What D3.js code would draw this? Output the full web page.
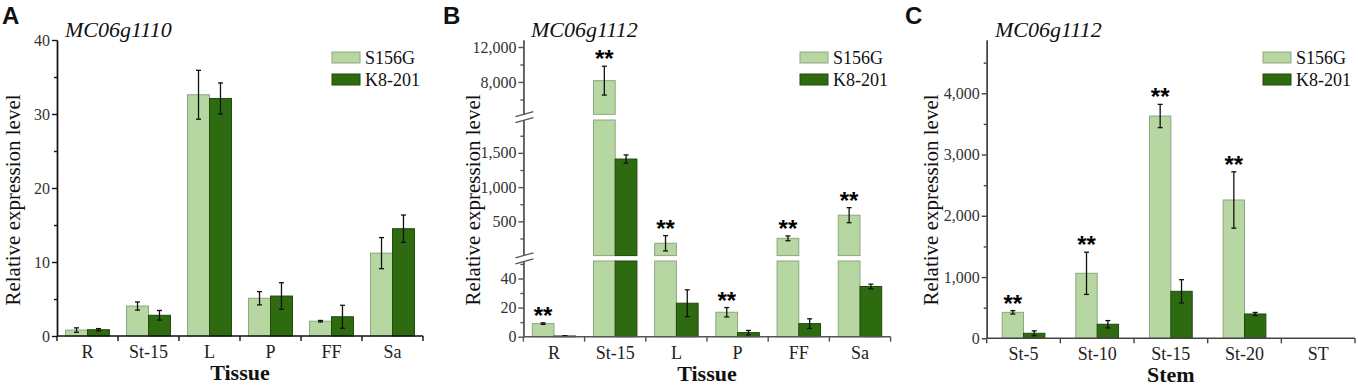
<!DOCTYPE html>
<html>
<head>
<script src="https://cdn.jsdelivr.net/npm/d3@7"></script>
<style>
body{margin:0;background:#fff;}
svg text{font-family:"Liberation Serif","Times New Roman",serif;}
</style>
</head>
<body>
<div id="chart"></div>
<script>
var series = ["S156G","K8-201"]
var tissues = ["R","St-15","L","P","FF","Sa"]
var stems = ["St-5","St-10","St-15","St-20","ST"]

// A: MC06g1110, tissues
var aS156G = [0.8, 4.05, 32.6, 5.1, 2.0, 11.2]
var aS156GErr = [0.3, 0.55, 3.3, 0.9, 0.1, 2.1]
var aK8 = [0.85, 2.8, 32.1, 5.4, 2.6, 14.5]
var aK8Err = [0.15, 0.65, 2.1, 1.8, 1.55, 1.85]
var aStars = [0,0,0,0,0,0]
var aTicks = [0,10,20,30,40]
var aMinor = [5,15,25,35]

// B: MC06g1112, tissues (broken axis)
var bS156G = [9.0, 8150, 180, 16.8, 252, 590]
var bS156GErr = [0.5, 1650, 112, 3.2, 35, 110]
var bK8 = [0.5, 1410, 23, 2.8, 9.0, 34.5]
var bK8Err = [0.2, 60, 9.2, 1.5, 3.3, 1.6]
var bStars = [1,1,1,1,1,1]
var bTicks = [0,20,40,500,1000,1500,8000,12000]
var bMinor = [10,30,50,250,750,1250,1750,6000,10000]

// C: MC06g1112, stem stages
var cS156G = [424, 1061, 3629, 2258, null]
var cS156GErr = [28, 345, 190, 460, null]
var cK8 = [82, 229, 767, 397, null]
var cK8Err = [40, 60, 190, 25, null]
var cStars = [1,1,1,1,0]
var cTicks = [0,1000,2000,3000,4000]
var cMinor = [500,1500,2500,3500,4500]

var fills = ["#b6d7a2","#2e6b10"]
var strokes = ["#8fa680","#1f4a0a"]
var serif = "'Liberation Serif','Times New Roman',serif"
var sans = "'Liberation Sans',Arial,sans-serif"

var svg = d3.select("#chart").append("svg").attr("width",1358).attr("height",387)

function panel(o){
    var g = svg.append("g")
    var x = d3.scaleBand().domain(o.cats).range([o.x0,o.x1])
    var bw = x.bandwidth(), gw = bw*o.group
    var sub = d3.scaleBand().domain(series).range([(bw-gw)/2,(bw+gw)/2])

    var segs = o.segs.map(function(s,j){
        var from = j==0 ? s.lo : o.segs[j-1].hi
        return {lo:s.lo,hi:s.hi,from:from,y0:s.y0,y1:s.y1,
            y:d3.scaleLinear().domain([s.lo,s.hi]).range([s.y0,s.y1])}
    })
    function segOf(v){
        for(var j=0;j<segs.length;j++){ if(v<=segs[j].hi) return segs[j] }
        return segs[segs.length-1]
    }

    // bars
    var vals = [o.s1,o.s2], errs = [o.e1,o.e2]
    o.cats.forEach(function(c,i){
        series.forEach(function(sr,k){
            var v = vals[k][i]
            if(v==null) return
            var bx = x(c)+sub(sr)
            segs.forEach(function(s,j){
                if(j>0 && v<=s.from) return
                var top = s.y(Math.min(v,s.hi))
                g.append("rect").attr("x",bx).attr("y",top)
                    .attr("width",sub.bandwidth()).attr("height",s.y0-top)
                    .attr("fill",fills[k]).attr("stroke",strokes[k]).attr("stroke-width",1)
            })
            var e = errs[k][i]
            var cx = bx+sub.bandwidth()/2
            var s = segOf(v)
            var yHi = s.y(Math.min(v+e,s.hi)), yLo = s.y(Math.max(v-e,s.lo))
            g.append("line").attr("x1",cx).attr("x2",cx).attr("y1",yHi).attr("y2",yLo)
                .attr("stroke","#111").attr("stroke-width",1.3)
            ;[yHi,yLo].forEach(function(yy){
                g.append("line").attr("x1",cx-2.5).attr("x2",cx+2.5).attr("y1",yy).attr("y2",yy)
                    .attr("stroke","#111").attr("stroke-width",1.3)
            })
            if(k==0 && o.stars[i]){
                g.append("text").text("**").attr("x",cx).attr("y",yHi+1)
                    .attr("text-anchor","middle").attr("font-size",24).attr("font-weight","bold")
                    .style("font-family",sans)
            }
        })
    })

    // y axis, one piece per segment (major and minor in their own groups)
    segs.forEach(function(s){
        var inSeg = function(t){ return t<=s.hi && (t>s.from || (t==s.lo && s.from==s.lo)) }
        var major = o.ticks.filter(inSeg), minor = o.minor.filter(inSeg)
        var axMinor = g.append("g").attr("transform","translate("+o.x0+",0)")
            .call(d3.axisLeft(s.y).tickValues(minor).tickSize(3).tickSizeOuter(0).tickFormat(""))
        var ax = g.append("g").attr("transform","translate("+o.x0+",0)")
            .call(d3.axisLeft(s.y).tickValues(major).tickSize(5).tickSizeOuter(0).tickPadding(2).tickFormat(d3.format(",")))
        ;[ax,axMinor].forEach(function(a){
            a.selectAll("path,line").attr("stroke",o.axisColor).attr("stroke-width",1.4)
        })
        ax.selectAll("text").attr("font-size",16).attr("fill","#333").style("font-family",serif)
    })
    // break marks
    for(var j=1;j<segs.length;j++){
        var mid = (segs[j-1].y1+segs[j].y0)/2
        ;[-3,3].forEach(function(d){
            g.append("line").attr("x1",o.x0-8).attr("x2",o.x0+10)
                .attr("y1",mid+d+2.5).attr("y2",mid+d-2.5)
                .attr("stroke","#555").attr("stroke-width",1.2)
        })
    }

    // x axis
    var base = segs[0].y0
    g.append("line").attr("x1",o.x0).attr("x2",o.x1).attr("y1",base).attr("y2",base)
        .attr("stroke",o.axisColor).attr("stroke-width",1.4)
    o.cats.map(function(c){return x(c)}).concat([o.x1]).forEach(function(t){
        g.append("line").attr("x1",t).attr("x2",t).attr("y1",base).attr("y2",base+5)
            .attr("stroke",o.axisColor).attr("stroke-width",1.4)
    })
    o.cats.forEach(function(c){
        g.append("text").text(c).attr("x",x(c)+bw/2).attr("y",base+22)
            .attr("text-anchor","middle").attr("font-size",18).attr("fill","#222").style("font-family",serif)
    })
    g.append("text").text(o.xTitle).attr("x",(o.x0+o.x1)/2).attr("y",base+44)
        .attr("text-anchor","middle").attr("font-size",22).attr("font-weight","bold").attr("fill","#111")
        .style("font-family",serif)

    g.append("text").text("Relative expression level")
        .attr("transform","translate("+o.yLabelX+",200) rotate(-90)")
        .attr("text-anchor","middle").attr("font-size",21).attr("fill","#111").style("font-family",serif)

    g.append("text").text(o.title).attr("x",o.titleX).attr("y",37)
        .attr("font-size",22).attr("font-style","italic").attr("fill","#111").style("font-family",serif)
    g.append("text").text(o.letter).attr("x",o.letterX).attr("y",24)
        .attr("font-size",24).attr("font-weight","bold").attr("fill","#111")
        .style("font-family",sans)

    // legend
    series.forEach(function(sr,k){
        g.append("rect").attr("x",o.legX).attr("y",52+k*22).attr("width",28).attr("height",11)
            .attr("fill",fills[k]).attr("stroke",strokes[k])
        g.append("text").text(sr).attr("x",o.legX+33).attr("y",64+k*22)
            .attr("font-size",18).attr("fill","#111").style("font-family",serif)
    })
}

panel({cats:tissues,s1:aS156G,e1:aS156GErr,s2:aK8,e2:aK8Err,stars:aStars,
    ticks:aTicks,minor:aMinor,x0:57,x1:423,group:0.72,axisColor:"#111",
    segs:[{lo:0,hi:40,y0:336,y1:40}],
    xTitle:"Tissue",title:"MC06g1110",titleX:65,letter:"A",letterX:2,yLabelX:20,legX:332})

panel({cats:tissues,s1:bS156G,e1:bS156GErr,s2:bK8,e2:bK8Err,stars:bStars,
    ticks:bTicks,minor:bMinor,x0:523.4,x1:890.6,group:0.71,axisColor:"#555",
    segs:[{lo:0,hi:52,y0:336.7,y1:261},{lo:0,hi:1980,y0:255.6,y1:120},{lo:4300,hi:12800,y0:114.3,y1:40}],
    xTitle:"Tissue",title:"MC06g1112",titleX:531,letter:"B",letterX:443,yLabelX:480,legX:800})

panel({cats:stems,s1:cS156G,e1:cS156GErr,s2:cK8,e2:cK8Err,stars:cStars,
    ticks:cTicks,minor:cMinor,x0:986.7,x1:1355,group:0.58,axisColor:"#444",
    segs:[{lo:0,hi:4870,y0:338.3,y1:40}],
    xTitle:"Stem",title:"MC06g1112",titleX:995,letter:"C",letterX:905,yLabelX:938,legX:1263})
</script>
</body>
</html>
